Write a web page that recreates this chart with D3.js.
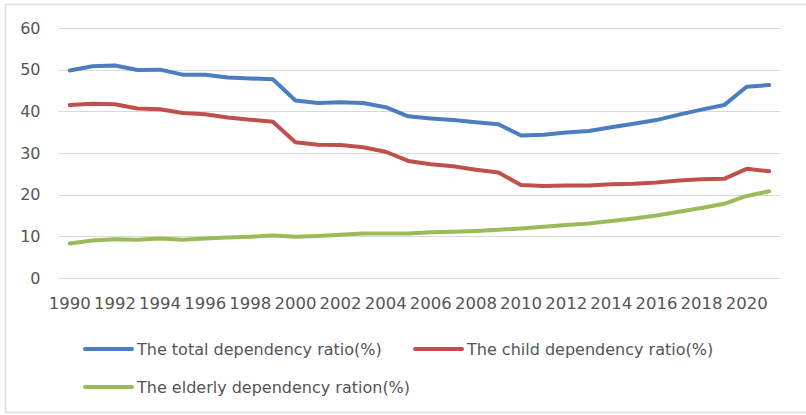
<!DOCTYPE html>
<html>
<head>
<meta charset="utf-8">
<script src="https://cdn.jsdelivr.net/npm/d3@7"></script>
<style>
  html, body { margin: 0; padding: 0; background: #ffffff; }
  svg { display: block; }
  text { font-family: "DejaVu Sans", sans-serif; fill: #555555; }
</style>
</head>
<body>
<svg id="chart" width="806" height="415"></svg>
<script>
// Dependency ratios, 1990–2021
const years = d3.range(1990, 2022);
const totalRatio = [49.8, 50.8, 51.0, 49.9, 50.0, 48.8, 48.8, 48.1, 47.9, 47.7,
                    42.6, 42.0, 42.2, 42.0, 41.0, 38.8, 38.3, 37.9, 37.4, 36.9,
                    34.2, 34.4, 34.9, 35.3, 36.2, 37.0, 37.9, 39.2, 40.4, 41.5,
                    45.9, 46.3];
const childRatio = [41.5, 41.8, 41.7, 40.7, 40.5, 39.6, 39.3, 38.5, 38.0, 37.5,
                    32.6, 32.0, 31.9, 31.4, 30.3, 28.1, 27.3, 26.8, 26.0, 25.3,
                    22.3, 22.1, 22.2, 22.2, 22.5, 22.6, 22.9, 23.4, 23.7, 23.8,
                    26.2, 25.6];
const elderlyRatio = [8.3, 9.0, 9.3, 9.2, 9.5, 9.2, 9.5, 9.7, 9.9, 10.2,
                      9.9, 10.1, 10.4, 10.7, 10.7, 10.7, 11.0, 11.1, 11.3, 11.6,
                      11.9, 12.3, 12.7, 13.1, 13.7, 14.3, 15.0, 15.9, 16.8, 17.8,
                      19.7, 20.8];
const yTicks = [0, 10, 20, 30, 40, 50, 60];
const xTickYears = d3.range(1990, 2021, 2);
const seriesNames = ["The total dependency ratio(%)",
                     "The child dependency ratio(%)",
                     "The elderly dependency ration(%)"];
const seriesColors = ["#4a7ebf", "#c0504d", "#9bbb59"];

const series = [totalRatio, childRatio, elderlyRatio].map((vals, i) => ({
  name: seriesNames[i],
  color: seriesColors[i],
  values: vals.map((v, j) => ({ year: years[j], value: v }))
}));

const svg = d3.select("#chart");

// outer frame
svg.append("path")
  .attr("d", "M806,4.5H5.5V412.5H806")
  .attr("fill", "none")
  .attr("stroke", "#dedede")
  .attr("stroke-width", 1.5);

const plot = { left: 58.5, right: 780.5, top: 28, bottom: 278 };

const x = d3.scaleBand()
  .domain(years)
  .range([plot.left, plot.right])
  .padding(0);
const xc = d => x(d) + x.bandwidth() / 2;

const y = d3.scaleLinear()
  .domain([0, 60])
  .range([plot.bottom, plot.top]);

// horizontal gridlines
svg.append("g")
  .selectAll("line")
  .data(yTicks)
  .join("line")
  .attr("x1", plot.left)
  .attr("x2", plot.right)
  .attr("y1", d => Math.round(y(d)) + 0.5)
  .attr("y2", d => Math.round(y(d)) + 0.5)
  .attr("stroke", "#d9d9d9")
  .attr("stroke-width", 1);

// y axis labels
const yAxis = d3.axisLeft(y).tickValues(yTicks).tickSize(0).tickPadding(18);
const gy = svg.append("g")
  .attr("transform", `translate(${plot.left},0)`)
  .call(yAxis);
gy.select(".domain").remove();
gy.selectAll("text")
  .attr("font-family", "DejaVu Sans, sans-serif")
  .attr("font-size", 16)
  .attr("fill", "#555555");

// x axis labels (every second year)
const xAxis = d3.axisBottom(x).tickValues(xTickYears).tickSize(0).tickPadding(19);
const gx = svg.append("g")
  .attr("transform", `translate(0,${plot.bottom})`)
  .call(xAxis);
gx.select(".domain").remove();
gx.selectAll("text")
  .attr("font-family", "DejaVu Sans, sans-serif")
  .attr("font-size", 16.5)
  .attr("fill", "#555555");

// series lines
const line = d3.line()
  .x(d => xc(d.year))
  .y(d => y(d.value));

svg.append("g")
  .selectAll("path")
  .data(series)
  .join("path")
  .attr("d", d => line(d.values))
  .attr("fill", "none")
  .attr("stroke", d => d.color)
  .attr("stroke-width", 4)
  .attr("stroke-linejoin", "round")
  .attr("stroke-linecap", "round");

// legend
const legendPos = [
  { lx: 85, ly: 349 },
  { lx: 415, ly: 349 },
  { lx: 85, ly: 387 }
];
const legend = svg.append("g")
  .selectAll("g")
  .data(series)
  .join("g")
  .attr("transform", (d, i) => `translate(${legendPos[i].lx},${legendPos[i].ly})`);
legend.append("line")
  .attr("x1", 0).attr("x2", 47)
  .attr("y1", 0).attr("y2", 0)
  .attr("stroke", d => d.color)
  .attr("stroke-width", 4)
  .attr("stroke-linecap", "round");
legend.append("text")
  .attr("x", 52)
  .attr("y", 0)
  .attr("dy", "0.36em")
  .attr("font-size", 16)
  .text(d => d.name);
</script>
</body>
</html>
